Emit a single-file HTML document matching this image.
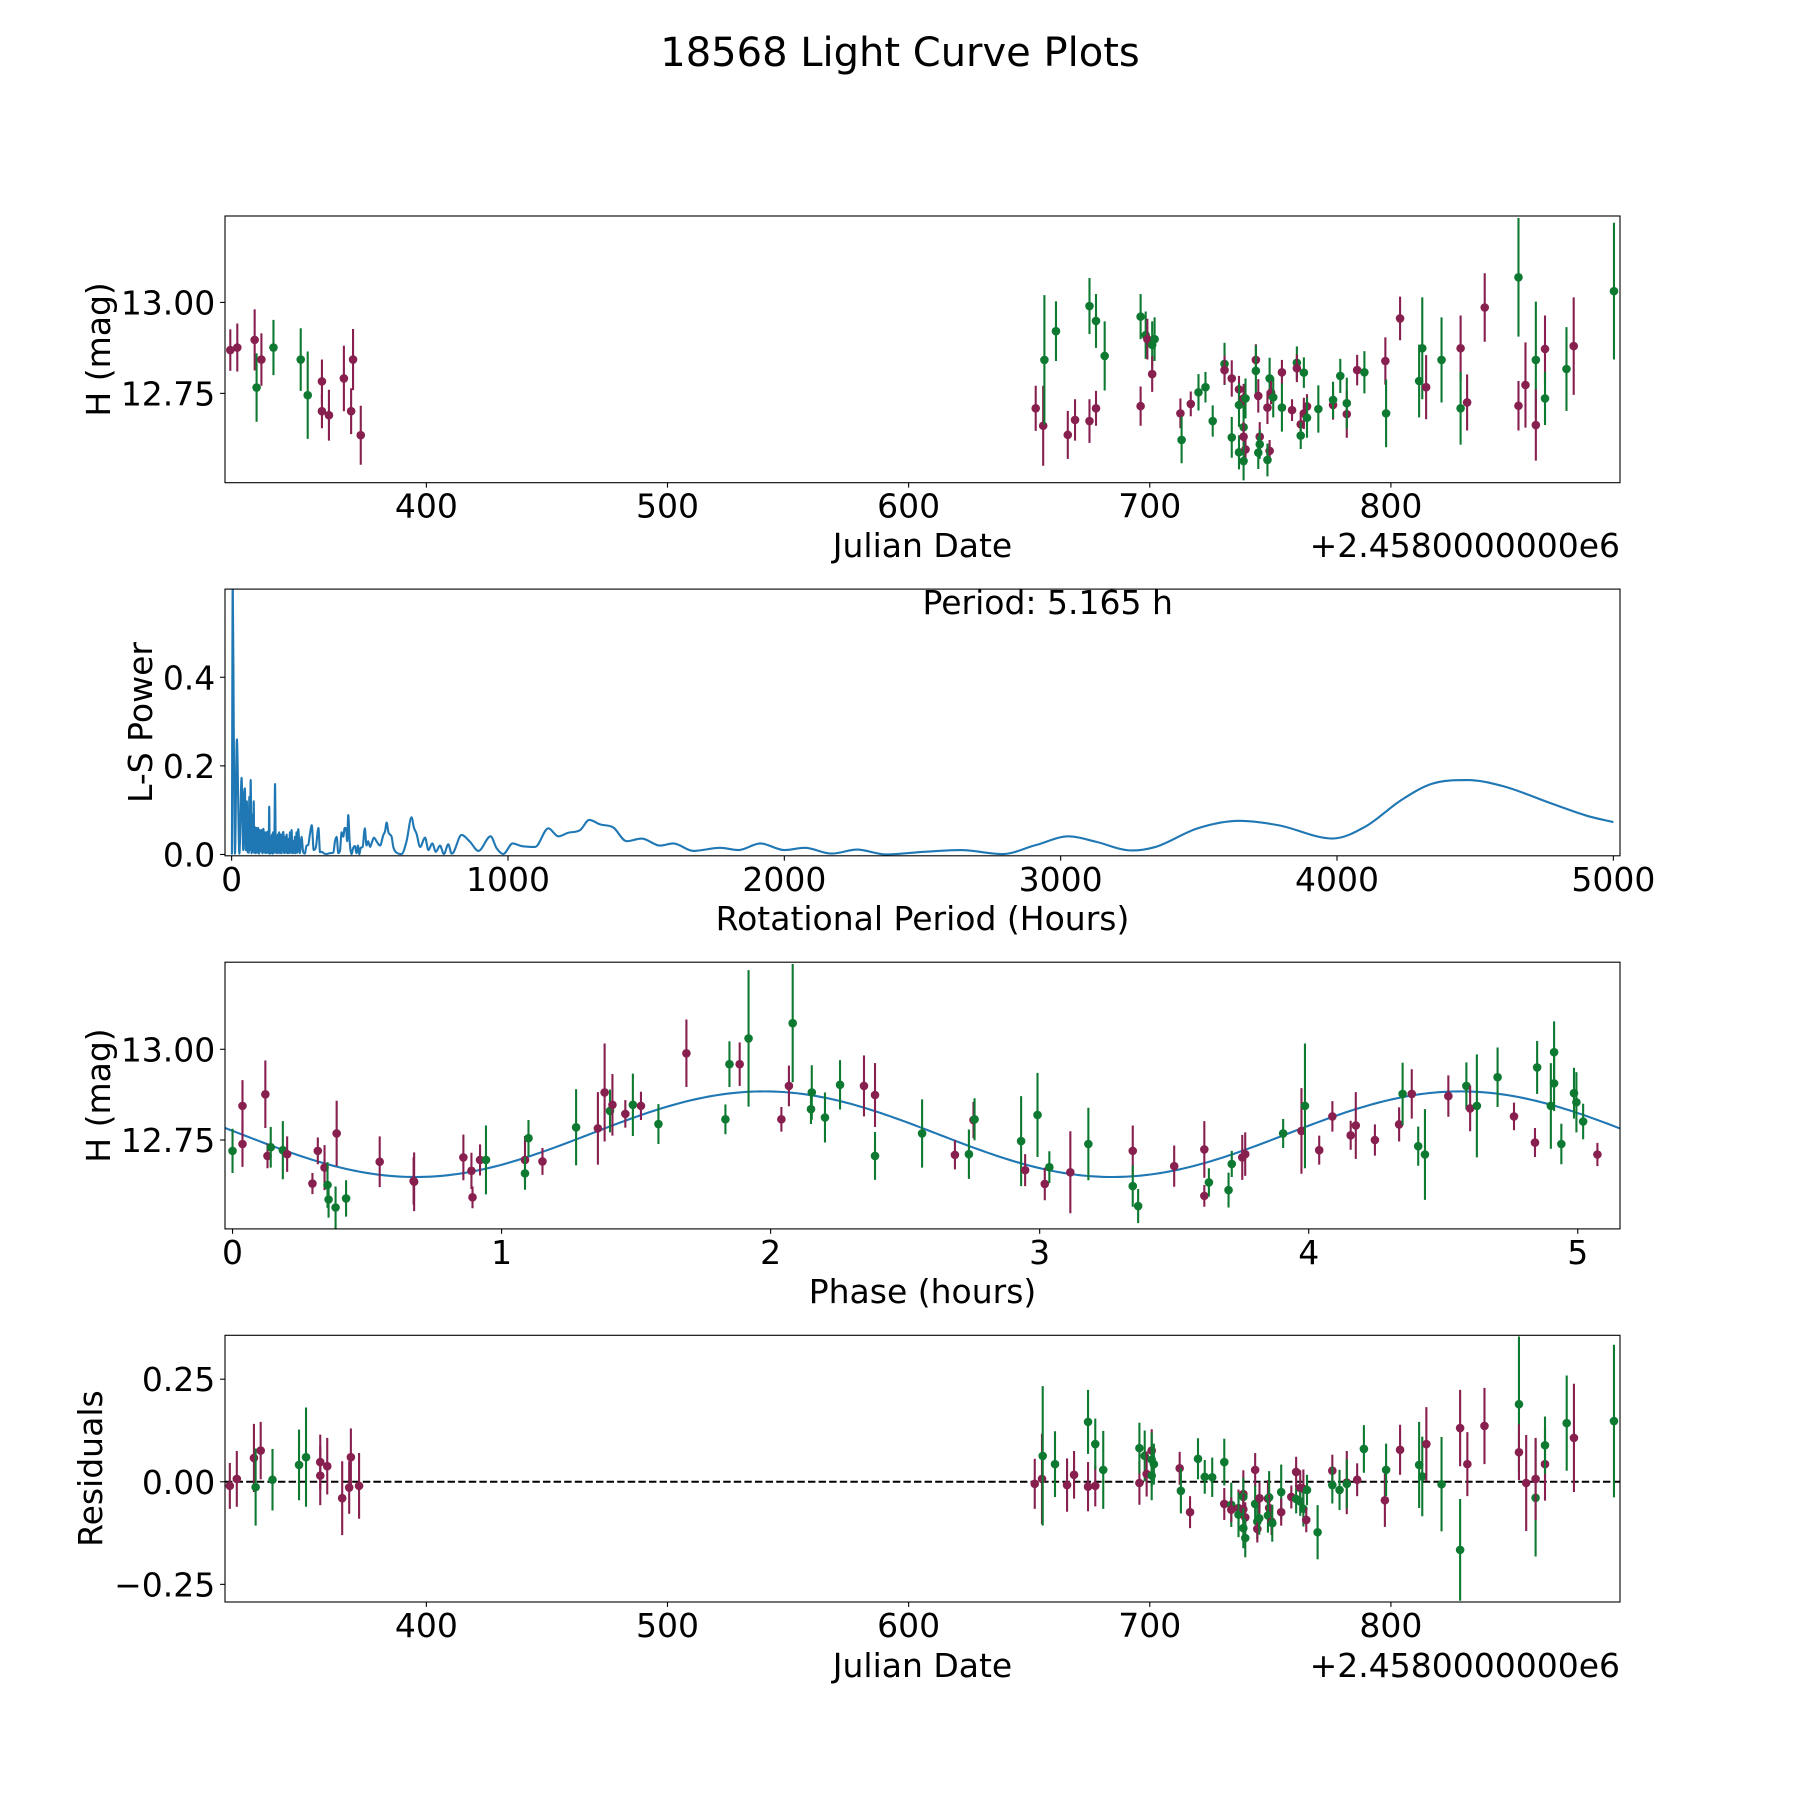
<!DOCTYPE html>
<html><head><meta charset="utf-8"><title>18568 Light Curve Plots</title>
<style>html,body{margin:0;padding:0;background:#fff}svg{display:block}text{font-family:"DejaVu Sans","Liberation Sans",sans-serif;fill:#000}</style>
</head><body>
<svg id="fig" xmlns="http://www.w3.org/2000/svg" width="1800" height="1800" viewBox="0 0 1800 1800">
<rect x="0" y="0" width="1800" height="1800" fill="#fff"/>
<text x="900" y="66" font-size="40" text-anchor="middle">18568 Light Curve Plots</text>
</svg>
<script>
// ---------- Panel 1: light curve (Julian Date offset 2.458e6) ----------
const lcDate=[318.7,321.6,328.8,329.6,331.6,336.6,347.9,350.8,356.7,356.7,359.6,365.8,368.8,369.6,372.8,
652.7,655.8,656.3,661.1,666,669,675,675,677.7,677.7,681.3,696.2,696.2,698.3,699,701,701,702,712.7,713.2,717,720.2,723.1,726.1,731,731,734,734,737,737,737,738.9,739.7,738.9,738.9,739.7,738.9,744,744,745,745.6,745.6,745,748.8,749.7,750.3,751.2,749.7,748.8,754.8,754.8,759,761,761,763.9,763.9,765.2,765.2,762.6,762.6,769.9,776,776,779,781.7,781.7,786,789,797.7,798,803.8,811.7,813,814.6,821,828.9,828.9,831.6,838.9,852.9,852.9,855.8,860.1,860.1,863.9,863.9,872.8,875.8,892.5];
const lcMag=[12.869,12.876,12.897,12.766,12.843,12.876,12.843,12.745,12.783,12.701,12.69,12.791,12.701,12.843,12.635,
12.709,12.661,12.842,12.921,12.636,12.677,12.674,12.990,12.709,12.949,12.853,12.715,12.961,12.910,12.899,12.883,12.803,12.899,12.695,12.622,12.721,12.753,12.767,12.674,12.831,12.814,12.791,12.629,12.761,12.718,12.588,12.736,12.736,12.657,12.631,12.596,12.564,12.842,12.812,12.743,12.631,12.61,12.587,12.711,12.791,12.752,12.739,12.592,12.567,12.808,12.711,12.704,12.834,12.819,12.807,12.695,12.714,12.683,12.665,12.634,12.707,12.718,12.732,12.798,12.693,12.723,12.814,12.808,12.839,12.695,12.956,12.784,12.874,12.767,12.842,12.874,12.709,12.725,12.986,13.069,12.716,12.773,12.842,12.663,12.872,12.736,12.817,12.88,13.031];
const lcErr=[.057,.066,.084,.094,.072,.076,.086,.12,.06,.047,.07,.09,.063,.084,.081,
.062,.11,.178,.082,.066,.057,.06,.077,.048,.074,.095,.054,.062,.065,.056,.065,.049,.06,.041,.064,.034,.05,.042,.043,.058,.04,.05,.056,.037,.06,.047,.04,.055,.06,.04,.035,.053,.043,.07,.046,.04,.04,.045,.045,.057,.032,.055,.03,.045,.034,.066,.03,.045,.038,.042,.043,.034,.055,.032,.037,.065,.04,.05,.047,.065,.07,.042,.058,.065,.093,.06,.1,.14,.088,.117,.09,.1,.077,.094,.163,.068,.117,.16,.098,.092,.073,.115,.134,.188];
const lcFilter=("mmmgmgggmmmmmmm"+"mmggmmmgmg"+"gmggmgmgmg"+"mggggmmgmg"+"gmggmmgmgm"+"mggmgmgmgm"+"gmgmgmmgmg"+"gmggmgmgmg"+"mggmgmgmmg"+"mmgmmggmg").split("");
const lcXTicks=[400,500,600,700,800];
const lcYTicks=[12.75,13.00];
const lcYTickLabels=["12.75","13.00"];

// ---------- Panel 2: Lomb-Scargle periodogram ----------
const lsPeriod=[1,4,8,12,19,28,36,
42,45,48,51,55,58,60,62,64,66,69,72,75,78,80,82,84,87,90,93,96,99,101,103,106,108,111,113,115,118,121,124,127,129,131,134,136,138,140,143,146,148,150,152,155,157,160,162,165,167,169,172,175,178,181,184,187,190,193,196,199,202,205,208,211,214,217,220,223,226,229,232,235,238,241,
247,253,259,265,271,277,283,290,297,305,314,320,326,335,344,356,368,
374,380,386,392,398,404,409,414,418,422,427,434,440,446,452,457,462,467,474,482,
488,494,501,508,515,525,537,549,555,561,567,573,579,585,597,615,633,651,660,669,
682,700,712,726,739,754,768,784,796,802,832,862,893,937,959,983,1017,1049,1098,1146,
1182,1218,1261,1294,1333,1381,1429,1484,1550,1598,1671,1767,1835,1913,2000,2074,2171,2263,2367,2508,
2638,2790,2909,3029,3126,3257,3343,3495,3647,3788,3984,4103,4233,4341,4472,4602,4776,4906,5000];
const lsPower=[0.0,0.62,0.256,0.002,0.26,0.002,0.173,
0.01,0.13,0.149,0.01,0.12,0.005,0.1,0.004,0.13,0.01,0.168,0.003,0.09,0.005,0.12,0.004,0.062,0.003,0.06,0.004,0.06,0.002,0.055,0.006,0.05,0.055,0.003,0.05,0.058,0.004,0.05,0.003,0.05,0.004,0.052,0.003,0.108,0.002,0.04,0.003,0.045,0.002,0.05,0.003,0.05,0.159,0.004,0.04,0.003,0.045,0.004,0.05,0.003,0.045,0.003,0.04,0.051,0.003,0.04,0.004,0.045,0.003,0.035,0.003,0.05,0.004,0.055,0.003,0.03,0.003,0.04,0.003,0.05,0.004,0.057,
0.003,0.04,0.005,0.002,0.02,0.021,0.045,0.066,0.01,0.017,0.06,0.005,0.006,0.002,0.001,0.003,0.004,
0.03,0.04,0.003,0.008,0.05,0.04,0.06,0.059,0.03,0.089,0.03,0.001,0.015,0.019,0.003,0.02,0.001,0.015,0.017,0.059,
0.02,0.03,0.017,0.028,0.038,0.029,0.02,0.044,0.052,0.072,0.051,0.045,0.040,0.017,0.004,0.001,0.03,0.084,0.06,0.047,
0.017,0.038,0.01,0.025,0.006,0.02,0.001,0.023,0.002,0.004,0.044,0.029,0.008,0.041,0.014,0.001,0.025,0.019,0.017,0.059,
0.041,0.049,0.055,0.078,0.068,0.061,0.03,0.036,0.02,0.025,0.008,0.015,0.01,0.025,0.01,0.015,0.002,0.011,0.0,0.006,
0.01,0.001,0.021,0.041,0.029,0.009,0.017,0.059,0.076,0.066,0.036,0.063,0.123,0.159,0.168,0.154,0.115,0.087,0.073];
const lsXTicks=[0,1000,2000,3000,4000,5000];
const lsYTicks=[0.0,0.2,0.4];
const bestPeriod=["5.165"];

// ---------- Panel 3: phased light curve ----------
const phHours=[0,0.037,0.037,0.122,0.13,0.142,0.187,0.203,0.297,0.317,0.342,0.353,0.357,0.383,0.387,0.422,0.547,0.675,0.673,0.858,0.888,0.892,0.92,0.942,1.087,1.087,1.1,1.152,1.277,1.358,1.383,1.403,1.412,1.46,1.488,1.518,1.583,1.687,1.832,1.847,1.885,1.918,2.04,2.068,2.082,2.153,2.15,2.202,2.258,2.347,2.388,2.388,2.563,
2.685,2.737,2.754,2.758,2.931,2.946,2.992,3.019,3.036,3.114,3.181,3.346,3.346,3.366,3.5,3.612,3.612,3.629,3.702,3.714,3.753,3.764,3.905,3.973,3.986,4.039,4.088,4.156,4.175,4.246,4.336,4.349,4.383,4.407,4.432,4.519,4.586,4.6,4.625,4.702,4.763,4.841,4.849,4.9,4.912,4.912,4.939,4.986,4.995,5.02,5.073];
const phMag=[12.720,12.844,12.739,12.876,12.706,12.730,12.722,12.711,12.630,12.720,12.674,12.626,12.586,12.564,12.768,12.589,12.690,12.635,12.637,12.702,12.665,12.592,12.695,12.695,12.695,12.658,12.755,12.691,12.785,12.782,12.881,12.830,12.847,12.822,12.847,12.844,12.794,12.989,12.807,12.959,12.959,13.030,12.807,12.899,13.072,12.881,12.835,12.812,12.902,12.899,12.874,12.706,12.768,
12.709,12.711,12.805,12.807,12.747,12.667,12.819,12.629,12.675,12.661,12.739,12.720,12.623,12.568,12.678,12.724,12.596,12.633,12.612,12.684,12.702,12.711,12.768,12.775,12.844,12.722,12.815,12.763,12.790,12.750,12.793,12.877,12.877,12.733,12.710,12.871,12.899,12.837,12.844,12.923,12.815,12.743,12.950,12.844,12.992,12.906,12.739,12.879,12.854,12.801,12.710];
const phErr=[.061,.071,.063,.093,.034,.056,.08,.049,.029,.037,.062,.063,.05,.058,.09,.05,.07,.081,.065,.063,.05,.03,.043,.095,.066,.045,.05,.037,.105,.1,.135,.059,.085,.038,.086,.039,.055,.093,.041,.063,.06,.188,.034,.056,.163,.075,.041,.069,.068,.084,.088,.066,.094,
.04,.068,.05,.058,.124,.044,.116,.045,.044,.113,.1,.07,.057,.047,.057,.078,.03,.039,.048,.036,.062,.06,.04,.118,.172,.04,.042,.04,.092,.043,.047,.086,.068,.054,.125,.057,.065,.063,.142,.082,.038,.04,.073,.118,.085,.076,.056,.07,.083,.049,.032];
const phFilter=("gmmmmggmmm"+"mgggmgmmmm"+"mmmgmggmgm"+"mgmmgmgmgg"+"mgmmgggggm"+"mgg"+"mgmggmgmgm"+"gmggmmmggg"+"mmgmgmmmmm"+"mgmggmgmgg"+"mmgggggggg"+"m").split("");
const phXTicks=[0,1,2,3,4,5];
const phYTicks=[12.75,13.00];
const phYTickLabels=["12.75","13.00"];
const fitMean=[12.766];
const fitAmp=[0.118];
const fitPeak=[1.975];
const fitPeriod=[2.59];

// ---------- Panel 4: residuals ----------
const resDate=[318.5,321.4,328.5,329.2,331.3,336.2,347.2,350.1,356,356,358.9,365.1,368,368.7,372.1,
652.3,655.3,655.6,660.7,665.7,668.6,674.4,674.4,677.4,677.4,680.7,695.7,695.7,697.9,698.7,700.8,700.8,701.7,700.8,712.4,712.9,716.7,720,722.8,725.9,730.9,730.9,733.8,733.8,736.8,736.8,738.8,738.8,738.8,739.6,738.8,739.6,743.7,743.7,744.6,744.6,745.4,745.5,749,749.5,749.5,749,750.5,750.8,754.5,754.5,758.7,760.7,760.7,762.4,762.4,763.7,763.7,765.2,764.9,769.6,775.7,775.7,778.7,781.7,781.7,786,788.8,797.5,798,803.8,811.7,813,814.7,821,828.7,828.7,831.7,838.8,853.1,853.1,856.1,860,860,863.9,863.9,872.9,875.9,892.5];
const resVal=[-0.010,0.007,0.058,-0.013,0.076,0.005,0.041,0.060,0.048,0.015,0.038,-0.040,-0.014,0.060,-0.010,
-0.005,0.007,0.063,0.043,-0.008,0.017,-0.012,0.146,-0.010,0.092,0.029,-0.003,0.082,0.063,0.019,0.076,0.054,0.043,0.015,0.033,-0.022,-0.074,0.056,0.012,0.011,0.048,-0.054,-0.056,-0.068,-0.064,-0.080,-0.030,-0.037,-0.067,-0.087,-0.113,-0.137,0.029,-0.054,-0.097,-0.115,-0.089,-0.040,-0.041,-0.038,-0.064,-0.082,-0.097,-0.101,-0.025,-0.074,-0.037,-0.042,0.024,-0.015,-0.048,-0.017,-0.066,-0.020,-0.093,-0.123,0.027,-0.008,-0.020,-0.002,-0.005,0.005,0.080,-0.045,0.029,0.078,0.041,0.013,0.092,-0.006,0.131,-0.166,0.043,0.136,0.189,0.072,-0.003,-0.039,0.007,0.043,0.089,0.143,0.107,0.148];
const resErr=[.056,.068,.083,.094,.070,.075,.086,.121,.067,.072,.069,.09,.064,.07,.08,
.061,.11,.17,.08,.065,.058,.06,.078,.05,.062,.095,.053,.062,.062,.055,.052,.066,.05,.06,.04,.055,.039,.05,.041,.048,.057,.039,.054,.03,.045,.055,.058,.047,.037,.037,.049,.047,.041,.045,.043,.033,.04,.037,.045,.064,.033,.042,.033,.045,.067,.033,.028,.035,.037,.043,.035,.047,.043,.037,.03,.066,.039,.045,.049,.077,.06,.04,.058,.065,.064,.061,.105,.097,.09,.115,.093,.124,.078,.093,.165,.068,.117,.143,.1,.089,.07,.116,.132,.186];
const resFilter=("mmmgmgggmmmmmmm"+"mmggmmmgmg"+"gmggmmgggm"+"gmggggmgmm"+"gmgmmggmgg"+"mgmmgmgmgg"+"mmgmmgmggm"+"gmggmgmgmg"+"mggmgmgmmg"+"mmgmmggmg").split("");
const resYTicks=[-0.25,0.00,0.25];
const resYTickLabels=["\u22120.25","0.00","0.25"];

// ---------- drawing ----------
const NS="http://www.w3.org/2000/svg";
const svg=document.getElementById("fig");
const COLORS={m:"#871f4f",g:"#0e7a31"};
const AX={left:225,right:1620};
const PANELS=[{top:216,bot:482.7},{top:589.1,bot:855.8},{top:962.2,bot:1228.9},{top:1335.3,bot:1602}];
function el(tag,attrs,parent){const e=document.createElementNS(NS,tag);for(const k in attrs)e.setAttribute(k,attrs[k]);(parent||svg).appendChild(e);return e;}
function lin(d0,d1,r0,r1){return v=>r0+(v-d0)*(r1-r0)/(d1-d0);}

function makeAxes(i,name,xd,yd){
  const p=PANELS[i];
  const g=el("g",{});
  
  
  const clip=el("clipPath",{id:"clip"+i},g);
  el("rect",{x:AX.left,y:p.top,width:AX.right-AX.left,height:p.bot-p.top},clip);
  const plot=el("g",{"clip-path":"url(#clip"+i+")"},g);
  
  
  return {g,plot,p,x:lin(xd[0],xd[1],AX.left,AX.right),y:lin(yd[0],yd[1],p.bot,p.top)};
}
function frame(a,name){
  const r=el("rect",{x:AX.left,y:a.p.top,width:AX.right-AX.left,height:a.p.bot-a.p.top,fill:"none",stroke:"#000","stroke-width":1.1},a.g);
  
  
}
function xTicks(a,ticks,labels,name){
  ticks.forEach((t,k)=>{
    const X=a.x(t);
    const tk=el("line",{x1:X,x2:X,y1:a.p.bot,y2:a.p.bot+4.9,stroke:"#000","stroke-width":1.1},a.g);
    
    
    const tl=el("text",{x:X,y:a.p.bot+35,"font-size":33,"text-anchor":"middle"},a.g);
    tl.textContent=labels?labels[k]:String(t);
    
    
  });
}
function yTicks(a,ticks,labels,name){
  ticks.forEach((t,k)=>{
    const Y=a.y(t);
    const tk=el("line",{x1:AX.left-4.9,x2:AX.left,y1:Y,y2:Y,stroke:"#000","stroke-width":1.1},a.g);
    
    
    const tl=el("text",{x:AX.left-9.7,y:Y+12,"font-size":33,"text-anchor":"end"},a.g);
    tl.textContent=labels[k];
    
    
  });
}
function label(a,txt,x,y,rot,name,anchor){
  const t=el("text",{x:x,y:y,"font-size":33,"text-anchor":anchor||"middle"},a.g);
  if(rot)t.setAttribute("transform","rotate(-90 "+x+" "+y+")");
  t.textContent=txt;
  
  
}
function errPoints(a,xs,ys,es,fs,name){
  const n=Math.min(xs.length,ys.length,es.length,fs.length);
  for(let i=0;i<n;i++){
    const c=COLORS[fs[i]]||COLORS.m;
    const X=a.x(xs[i]);
    const bar=el("line",{x1:X,x2:X,y1:a.y(ys[i]-es[i]),y2:a.y(ys[i]+es[i]),stroke:c,"stroke-width":2.1},a.plot);
    
    
    const dot=el("circle",{cx:X,cy:a.y(ys[i]),r:4.3,fill:c},a.plot);
    
    
  }
}
// monotone cubic (Fritsch-Carlson) smooth path through pixel points
function monotonePath(X,Y){
  const n=X.length;if(n<2)return "";
  const d=[],m=new Array(n);
  for(let i=0;i<n-1;i++)d.push((Y[i+1]-Y[i])/(X[i+1]-X[i]));
  m[0]=d[0];m[n-1]=d[n-2];
  for(let i=1;i<n-1;i++){m[i]=(d[i-1]*d[i]<=0)?0:(d[i-1]+d[i])/2;}
  for(let i=0;i<n-1;i++){
    if(d[i]===0){m[i]=0;m[i+1]=0;continue;}
    const al=m[i]/d[i],be=m[i+1]/d[i],s=al*al+be*be;
    if(s>9){const t=3/Math.sqrt(s);m[i]=t*al*d[i];m[i+1]=t*be*d[i];}
  }
  let p="M"+X[0].toFixed(2)+","+Y[0].toFixed(2);
  for(let i=0;i<n-1;i++){
    const h=(X[i+1]-X[i])/3;
    p+="C"+(X[i]+h).toFixed(2)+","+(Y[i]+m[i]*h).toFixed(2)+" "+(X[i+1]-h).toFixed(2)+","+(Y[i+1]-m[i+1]*h).toFixed(2)+" "+X[i+1].toFixed(2)+","+Y[i+1].toFixed(2);
  }
  return p;
}

// Panel 1
const a1=makeAxes(0,"light-curve-panel",[316.5,895],[12.5045,13.2375]);
errPoints(a1,lcDate,lcMag,lcErr,lcFilter,"light-curve");
frame(a1,"light-curve");
xTicks(a1,lcXTicks,null,"light-curve");
yTicks(a1,lcYTicks,lcYTickLabels,"light-curve");
label(a1,"Julian Date",922.5,557,false,"light-curve-x-axis-title");
label(a1,"+2.4580000000e6",1620,557,false,"light-curve-x-offset-text","end");
label(a1,"H (mag)",110,349.4,true,"light-curve-y-axis-title");

// Panel 2
const a2=makeAxes(1,"periodogram-panel",[-24,5024],[-0.003,0.599]);
{
  const n=Math.min(lsPeriod.length,lsPower.length);
  const X=[],Y=[];
  for(let i=0;i<n;i++){X.push(a2.x(lsPeriod[i]));Y.push(a2.y(lsPower[i]));}
  const ln=el("path",{d:monotonePath(X,Y),fill:"none",stroke:"#1f77b4","stroke-width":2.1,"stroke-linejoin":"round"},a2.plot);
  
  
}
frame(a2,"periodogram");
xTicks(a2,lsXTicks,null,"periodogram");
yTicks(a2,lsYTicks,lsYTicks.map(v=>v.toFixed(1)),"periodogram");
label(a2,"Period: "+bestPeriod[0]+" h",922.5,614,false,"period-annotation","start");
label(a2,"Rotational Period (Hours)",922.5,930,false,"periodogram-x-axis-title");
label(a2,"L-S Power",152,722.5,true,"periodogram-y-axis-title");

// Panel 3
const a3=makeAxes(2,"phase-panel",[-0.028,5.157],[12.505,13.240]);
{
  let d="";
  const x0=-0.028,x1=5.157,steps=300;
  for(let k=0;k<=steps;k++){
    const ph=x0+(x1-x0)*k/steps;
    const v=fitMean[0]+fitAmp[0]*Math.cos(2*Math.PI*(ph-fitPeak[0])/fitPeriod[0]);
    d+=(k?"L":"M")+a3.x(ph).toFixed(2)+","+a3.y(v).toFixed(2);
  }
  const ln=el("path",{d:d,fill:"none",stroke:"#1f77b4","stroke-width":2.1},a3.plot);
  
  
}
errPoints(a3,phHours,phMag,phErr,phFilter,"phase");
frame(a3,"phase");
xTicks(a3,phXTicks,null,"phase");
yTicks(a3,phYTicks,phYTickLabels,"phase");
label(a3,"Phase (hours)",922.5,1303,false,"phase-x-axis-title");
label(a3,"H (mag)",110,1095.5,true,"phase-y-axis-title");

// Panel 4
const a4=makeAxes(3,"residuals-panel",[316.5,895],[-0.293,0.357]);
{
  const z=el("line",{x1:AX.left,x2:AX.right,y1:a4.y(0),y2:a4.y(0),stroke:"#000","stroke-width":2,"stroke-dasharray":"7.4,3.2"},a4.plot);
  
  
}
errPoints(a4,resDate,resVal,resErr,resFilter,"residual");
frame(a4,"residuals");
xTicks(a4,lcXTicks,null,"residuals");
yTicks(a4,resYTicks,resYTickLabels,"residuals");
label(a4,"Julian Date",922.5,1677,false,"residuals-x-axis-title");
label(a4,"+2.4580000000e6",1620,1677,false,"residuals-x-offset-text","end");
label(a4,"Residuals",102,1468.6,true,"residuals-y-axis-title");
</script>
</body></html>
